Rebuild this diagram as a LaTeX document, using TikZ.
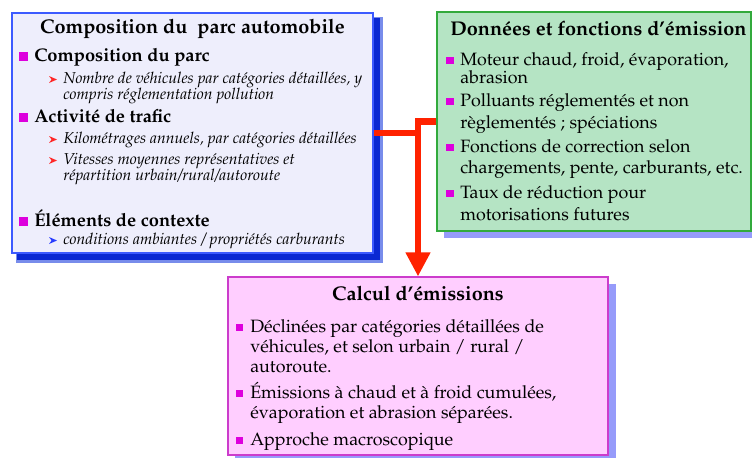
\documentclass[tikz,border=0pt]{standalone}
\usepackage[T1]{fontenc}
\usepackage{mathpazo}
\usetikzlibrary{fit,arrows.meta}
\definecolor{bxone}{RGB}{238,238,252}
\definecolor{bxoneline}{RGB}{60,90,255}
\definecolor{shone}{RGB}{10,40,210}
\definecolor{shonesoft}{RGB}{120,140,235}
\definecolor{bxtwo}{RGB}{181,228,196}
\definecolor{bxtwoline}{RGB}{50,170,60}
\definecolor{bxthree}{RGB}{255,206,255}
\definecolor{bxthreeline}{RGB}{204,60,204}
\definecolor{shlight}{RGB}{150,155,250}
\definecolor{conn}{RGB}{255,34,0}
\definecolor{bul}{RGB}{221,0,221}
\definecolor{arred}{RGB}{255,40,40}
\definecolor{arblue}{RGB}{40,60,255}
\newcommand\sqbul[3]{\fill[bul] (#1,#2) rectangle ++(#3,-#3);}
\newcommand\arbul[3]{\fill[#3] (#1,#2) -- ++(8,-3.5) -- ++(-8,-3.5) -- ++(2.6,3.5) -- cycle;}
\tikzset{
  boxnode/.style={inner sep=0pt, line width=0.8pt},
  ttl/.style={anchor=base, inner sep=0pt, font=\fontsize{14.9}{17}\selectfont\bfseries},
  hd/.style={anchor=base west, inner sep=0pt, font=\fontsize{13.7}{16}\selectfont\bfseries},
  it/.style={anchor=base west, inner sep=0pt, font=\fontsize{11.8}{14}\selectfont\itshape},
  rg/.style={anchor=base west, inner sep=0pt, font=\fontsize{13.4}{16}\selectfont},
  connline/.style={draw=conn, line width=5pt},
}
\begin{document}
\begin{tikzpicture}[x=0.75pt,y=-0.75pt]
\useasboundingbox (0,0) rectangle (752,457);
% shadows
\fill[shonesoft] (16,17) rectangle (383,263);
\fill[shone] (17,18) rectangle (380,260);
\fill[shlight] (444,19) rectangle (758,238);
\fill[shlight] (235,284) rectangle (616,462);
% boxes
\node[boxnode, fit={(12,13)(373,253)}, draw=bxoneline, fill=bxone] (b1) {};
\node[boxnode, fit={(437,12)(751,231)}, draw=bxtwoline, fill=bxtwo] (b2) {};
\node[boxnode, fit={(228,277)(608,455)}, draw=bxthreeline, fill=bxthree] (b3) {};
% connectors
\draw[connline] (b1.east) -- (b1.east -| b3.north);
\draw[connline, line join=miter, -{Triangle[width=17.5pt,length=18pt]}] (b2.west) -| (b3.north);
% box 1 text
\node[ttl] (t1) at (192.5,33) {Composition du\ \ parc automobile};
\sqbul{19}{61}{9}
\node[hd] (h11) at (34,61) {Composition du parc};
\arbul{49}{83}{arred}
\node[it] (s111) at (63,83) {Nombre de v\'ehicules par cat\'egories d\'etaill\'ees, y};
\node[it] (s112) at (63,99) {compris r\'eglementation pollution};
\sqbul{19}{122}{9}
\node[hd] (h12) at (34,122) {Activit\'e de trafic};
\arbul{49}{143}{arred}
\node[it] (s121) at (63,143) {Kilom\'etrages annuels, par cat\'egories d\'etaill\'ees};
\arbul{49}{164}{arred}
\node[it] (s122) at (63,164) {Vitesses moyennes repr\'esentatives et};
\node[it] (s123) at (63,180) {r\'epartition urbain/rural/autoroute};
\sqbul{19}{226}{9}
\node[hd] (h13) at (34,226) {\'El\'ements de contexte};
\arbul{49}{244}{arblue}
\node[it] (s131) at (63,244) {conditions ambiantes / propri\'et\'es carburants};
% box 2 text
\node[ttl] (t2) at (598.5,35) {Donn\'ees et fonctions d'\'emission};
\sqbul{446}{64}{7.5}
\node[rg] (r21) at (460,65) {Moteur chaud, froid, \'evaporation,};
\node[rg] (r22) at (460,83) {abrasion};
\sqbul{446}{105}{7.5}
\node[rg] (r23) at (460,106) {Polluants r\'eglement\'es et non};
\node[rg] (r24) at (460,128) {r\`eglement\'es ; sp\'eciations};
\sqbul{446}{151}{7.5}
\node[rg] (r25) at (460,152) {Fonctions de correction selon};
\node[rg] (r26) at (460,173) {chargements, pente, carburants, etc.};
\sqbul{446}{197}{7.5}
\node[rg] (r27) at (460,198) {Taux de r\'eduction pour};
\node[rg] (r28) at (460,220) {motorisations futures};
% box 3 text
\node[ttl] (t3) at (418,300) {Calcul d'\'emissions};
\sqbul{235.5}{331}{7.5}
\node[rg] (r31) at (250,332) {D\'eclin\'ees par cat\'egories d\'etaill\'ees de};
\node[rg] (r32) at (250,352) {v\'ehicules, et selon urbain / rural /};
\node[rg] (r33) at (250,372) {autoroute.};
\sqbul{235.5}{397}{7.5}
\node[rg] (r34) at (250,398) {\'Emissions \`a chaud et \`a froid cumul\'ees,};
\node[rg] (r35) at (250,418) {\'evaporation et abrasion s\'epar\'ees.};
\sqbul{235.5}{444}{7.5}
\node[rg] (r36) at (250,445) {Approche macroscopique};
\end{tikzpicture}
\end{document}
